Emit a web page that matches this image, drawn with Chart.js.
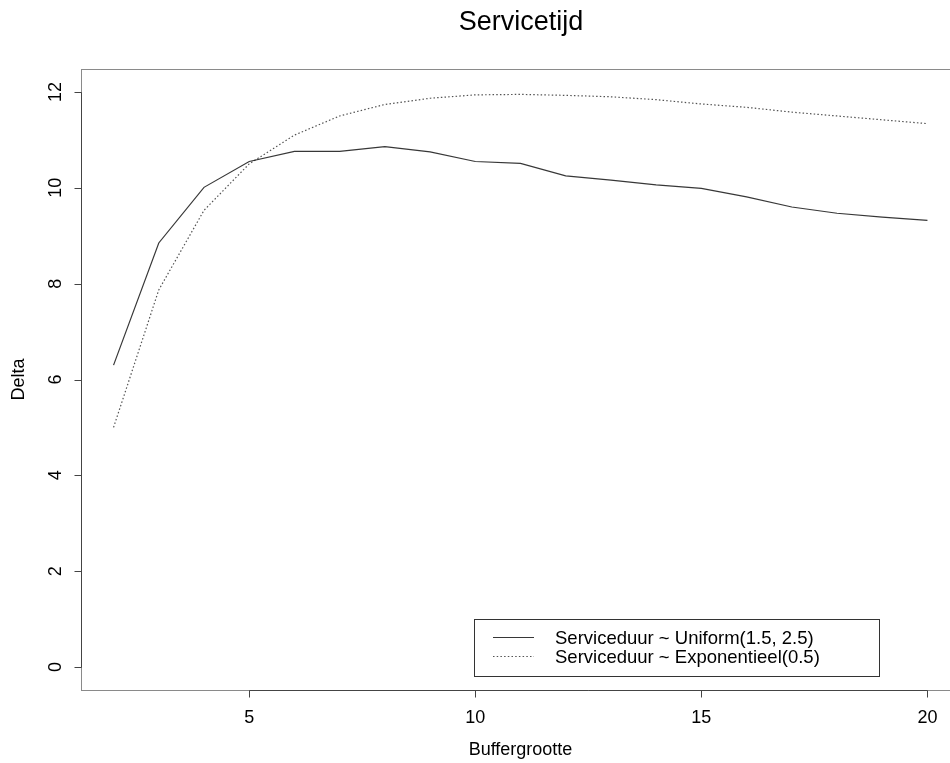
<!DOCTYPE html>
<html>
<head>
<meta charset="utf-8">
<title>Servicetijd</title>
<script src="https://cdn.jsdelivr.net/npm/chart.js@4.4.1/dist/chart.umd.min.js"></script>
<style>
  html, body { margin: 0; padding: 0; background: #fff; overflow: hidden; }
  #wrap { width: 975px; height: 763px; }
</style>
</head>
<body>
<div id="wrap"><canvas id="myChart"></canvas></div>
<script>
// buffer sizes and the mean delta for both service-time distributions
const bufferSizes = [2, 3, 4, 5, 6, 7, 8, 9, 10, 11, 12, 13, 14, 15, 16, 17, 18, 19, 20]
const uniformDelta = [6.30, 8.85, 10.01, 10.55, 10.76, 10.76, 10.86, 10.75, 10.55, 10.51, 10.25, 10.16, 10.06, 9.99, 9.81, 9.60, 9.47, 9.39, 9.32]
const expDelta = [5.00, 7.87, 9.53, 10.50, 11.10, 11.50, 11.74, 11.87, 11.94, 11.95, 11.93, 11.90, 11.84, 11.75, 11.68, 11.58, 11.50, 11.42, 11.34]

const xTicks = [5, 10, 15, 20]
const yTicks = [0, 2, 4, 6, 8, 10, 12]

const titleText = "Servicetijd"
const xTitle = "Buffergrootte"
const yTitle = "Delta"
const seriesLabels = ["Serviceduur ~ Uniform(1.5, 2.5)", "Serviceduur ~ Exponentieel(0.5)"]

const FONT = '"Liberation Sans", Arial, Helvetica, sans-serif'

const toPoints = ys => bufferSizes.map((x, i) => ({ x, y: ys[i] }))

// axes, box, titles and legend drawn by hand (R base-graphics look)
const rAxes = {
  id: 'rAxes',
  afterDraw(chart) {
    const { ctx, chartArea: a, scales: { x, y } } = chart
    ctx.save()

    // plot box
    ctx.strokeStyle = '#8a8a8a'
    ctx.lineWidth = 1
    ctx.strokeRect(a.left + 0.5, a.top + 0.5, a.right - a.left, a.bottom - a.top)

    ctx.strokeStyle = '#444'
    ctx.fillStyle = '#000'
    ctx.font = '18px ' + FONT

    // x axis
    const x0 = Math.round(x.getPixelForValue(xTicks[0])) + 0.5
    const x1 = Math.round(x.getPixelForValue(xTicks[xTicks.length - 1])) + 0.5
    const by = Math.round(a.bottom) + 0.5
    ctx.beginPath()
    ctx.moveTo(x0, by); ctx.lineTo(x1, by)
    xTicks.forEach(t => {
      const px = Math.round(x.getPixelForValue(t)) + 0.5
      ctx.moveTo(px, by); ctx.lineTo(px, by + 7)
    })
    ctx.stroke()
    ctx.textAlign = 'center'
    ctx.textBaseline = 'middle'
    xTicks.forEach(t => ctx.fillText(String(t), x.getPixelForValue(t), 718))

    // y axis
    const lx = Math.round(a.left) + 0.5
    const y0 = Math.round(y.getPixelForValue(yTicks[0])) + 0.5
    const y1 = Math.round(y.getPixelForValue(yTicks[yTicks.length - 1])) + 0.5
    ctx.beginPath()
    ctx.moveTo(lx, y0); ctx.lineTo(lx, y1)
    yTicks.forEach(t => {
      const py = Math.round(y.getPixelForValue(t)) + 0.5
      ctx.moveTo(lx, py); ctx.lineTo(lx - 7, py)
    })
    ctx.stroke()
    yTicks.forEach(t => {
      ctx.save()
      ctx.translate(56, y.getPixelForValue(t))
      ctx.rotate(-Math.PI / 2)
      ctx.fillText(String(t), 0, 0)
      ctx.restore()
    })

    // axis titles
    ctx.fillText(xTitle, (a.left + a.right) / 2, 750)
    ctx.save()
    ctx.translate(19, (a.top + a.bottom) / 2)
    ctx.rotate(-Math.PI / 2)
    ctx.fillText(yTitle, 0, 0)
    ctx.restore()

    // main title
    ctx.font = '27px ' + FONT
    ctx.textBaseline = 'alphabetic'
    ctx.fillText(titleText, 521, 30)

    // legend
    const lg = { left: 474.5, top: 619.5, w: 405, h: 57 }
    ctx.strokeStyle = '#333'
    ctx.lineWidth = 1
    ctx.strokeRect(lg.left, lg.top, lg.w, lg.h)
    ctx.font = '18.5px ' + FONT
    ctx.textAlign = 'left'
    const rows = [637.5, 656.5]
    chart.data.datasets.forEach((ds, i) => {
      ctx.save()
      ctx.strokeStyle = ds.borderColor
      ctx.lineWidth = ds.borderWidth
      ctx.setLineDash(ds.borderDash || [])
      ctx.beginPath()
      ctx.moveTo(493, rows[i]); ctx.lineTo(534, rows[i])
      ctx.stroke()
      ctx.restore()
      ctx.fillText(ds.label, 555, rows[i] + 6.5)
    })

    ctx.restore()
  }
}

const ctx = document.getElementById('myChart').getContext('2d')

new Chart(ctx, {
  type: 'line',
  data: {
    datasets: [
      {
        label: seriesLabels[0],
        data: toPoints(uniformDelta),
        borderColor: 'rgba(20,20,20,0.85)',
        borderWidth: 1.2,
        pointRadius: 0,
        tension: 0
      },
      {
        label: seriesLabels[1],
        data: toPoints(expDelta),
        borderColor: 'rgba(40,40,40,0.8)',
        borderWidth: 1.2,
        borderDash: [1.5, 2.2],
        pointRadius: 0,
        tension: 0
      }
    ]
  },
  options: {
    responsive: true,
    maintainAspectRatio: false,
    animation: false,
    layout: {
      padding: { left: 81, top: 69, right: 15, bottom: 73 }
    },
    plugins: {
      legend: { display: false },
      tooltip: { enabled: false },
      title: { display: false }
    },
    scales: {
      x: { type: 'linear', display: false, min: 1.28, max: 20.72 },
      y: { type: 'linear', display: false, min: -0.48, max: 12.48 }
    }
  },
  plugins: [rAxes]
})
</script>
</body>
</html>
